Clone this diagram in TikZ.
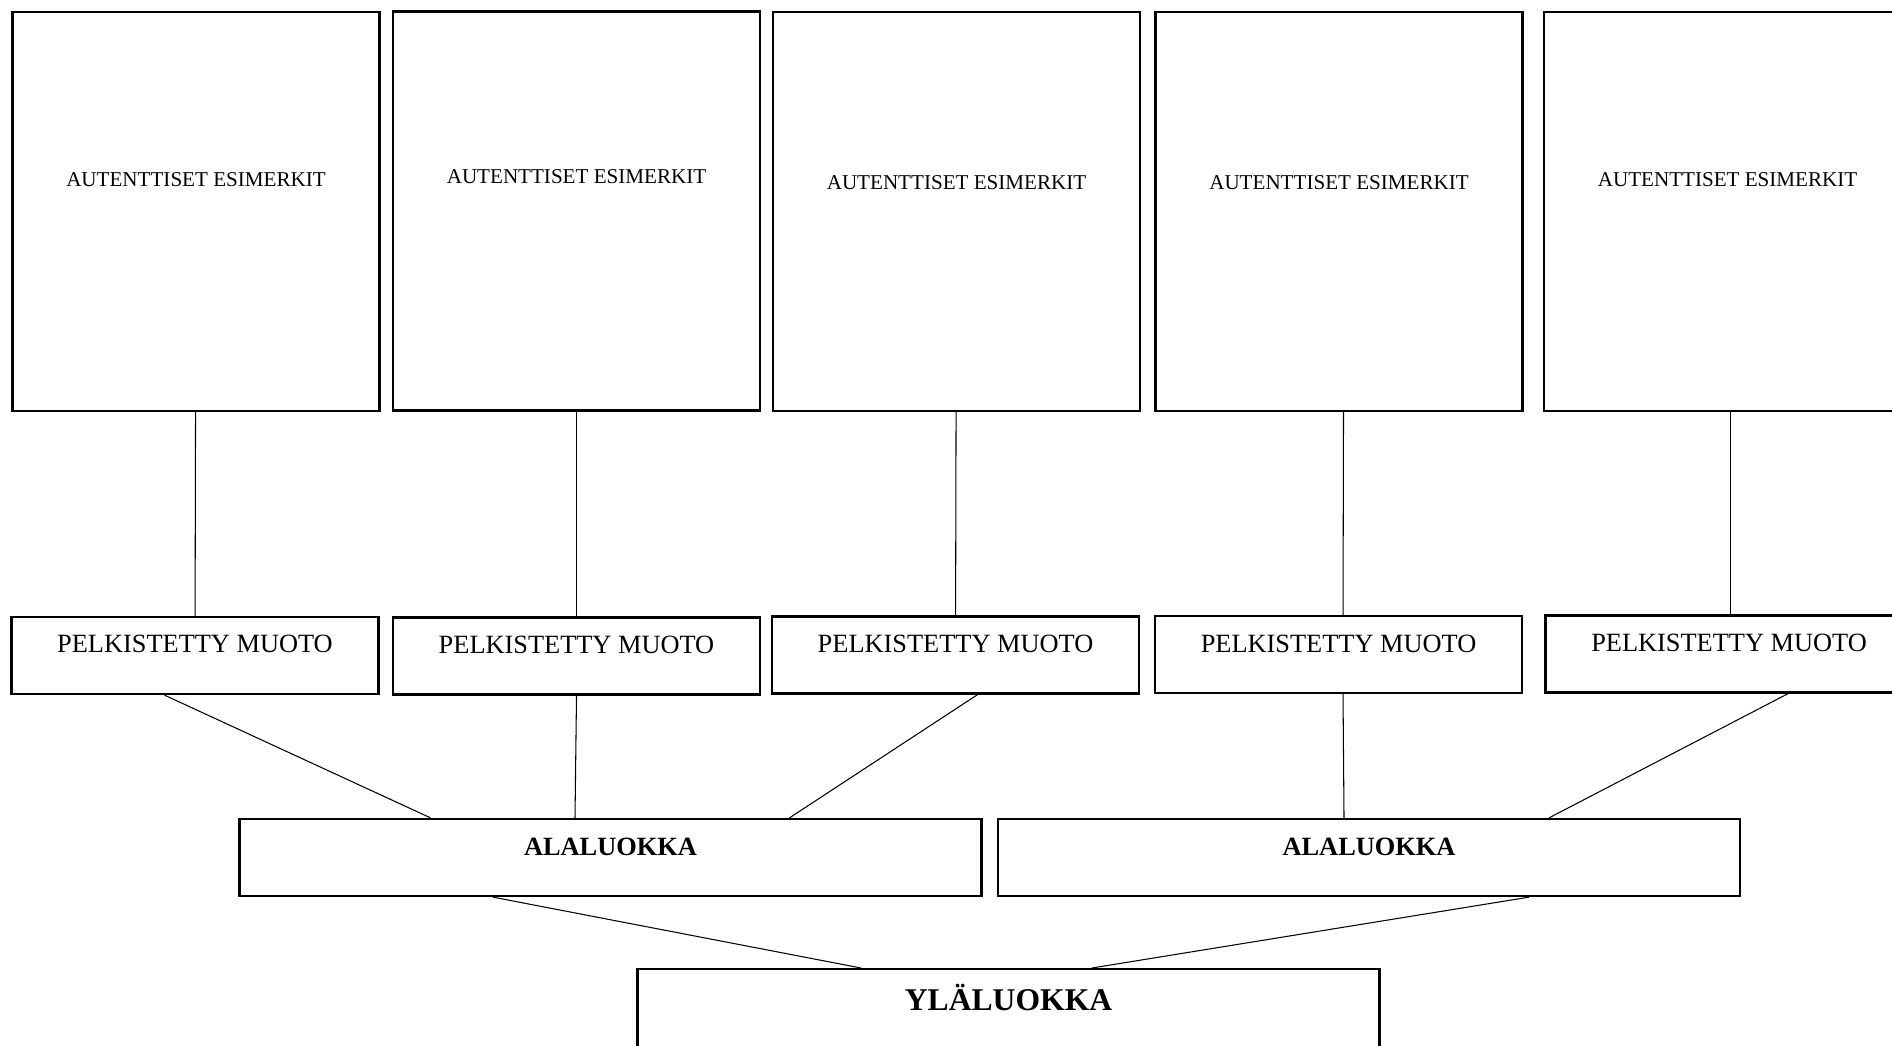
\documentclass[tikz,border=0pt]{standalone}
\usepackage{fontspec}
\setmainfont{Liberation Serif}
\usetikzlibrary{positioning}
\tikzset{>=latex}

\begin{document}
\begin{tikzpicture}[
    esim/.style={draw, line width=0.65pt, minimum width=3.67cm, minimum height=3.99cm},
    pelk/.style={draw, line width=0.65pt, minimum width=3.67cm, minimum height=0.77cm},
    luokka/.style={draw, line width=0.65pt, minimum width=7.42cm, minimum height=0.77cm},
    esimteksti/.style={font=\fontsize{6}{7}\selectfont},
    pelkteksti/.style={font=\fontsize{7.5}{9}\selectfont},
    luokkateksti/.style={font=\bfseries\fontsize{7.5}{9}\selectfont},
    yhd/.style={line width=0.3pt}]
        \useasboundingbox (0,0) rectangle (18.92,-10.46);
        \clip (0,0) rectangle (18.92,-10.46);
        % autenttiset esimerkit
        \node [esim, label={[esimteksti, yshift=0.32cm]center:AUTENTTISET ESIMERKIT}] (esim1) at (1.96,-2.115) {};
        \node [esim, label={[esimteksti, yshift=0.34cm]center:AUTENTTISET ESIMERKIT}] (esim2) at (5.765,-2.11) {};
        \node [esim, label={[esimteksti, yshift=0.29cm]center:AUTENTTISET ESIMERKIT}] (esim3) at (9.565,-2.115) {};
        \node [esim, label={[esimteksti, yshift=0.285cm]center:AUTENTTISET ESIMERKIT}] (esim4) at (13.39,-2.115) {};
        \node [esim, label={[esimteksti, yshift=0.32cm]center:AUTENTTISET ESIMERKIT}] (esim5) at (17.275,-2.115) {};
        % pelkistetyt muodot
        \node [pelk, label={[pelkteksti, yshift=0.115cm]center:PELKISTETTY MUOTO}] (pelk1) at (1.95,-6.555) {};
        \node [pelk, label={[pelkteksti, yshift=0.115cm]center:PELKISTETTY MUOTO}] (pelk2) at (5.765,-6.56) {};
        \node [pelk, label={[pelkteksti, yshift=0.11cm]center:PELKISTETTY MUOTO}] (pelk3) at (9.555,-6.55) {};
        \node [pelk, label={[pelkteksti, yshift=0.11cm]center:PELKISTETTY MUOTO}] (pelk4) at (13.385,-6.545) {};
        \node [pelk, label={[pelkteksti, yshift=0.11cm]center:PELKISTETTY MUOTO}] (pelk5) at (17.29,-6.54) {};
        % luokat
        \node [luokka, label={[luokkateksti, yshift=0.105cm]center:ALALUOKKA}] (ala1) at (6.105,-8.575) {};
        \node [luokka, label={[luokkateksti, yshift=0.105cm]center:ALALUOKKA}] (ala2) at (13.69,-8.575) {};
        \node [luokka, anchor=north, minimum height=1cm,
            label={[luokkateksti, font=\bfseries\fontsize{9}{11}\selectfont, yshift=0.22cm]center:YLÄLUOKKA}] (yla) at (10.085,-9.68) {};
        % yhteydet
        \draw [yhd] (esim1) -- (pelk1);
        \draw [yhd] (esim2) -- (pelk2);
        \draw [yhd] (esim3) -- (pelk3);
        \draw [yhd] ([xshift=0.045cm]esim4.south) -- ([xshift=0.045cm]pelk4.north);
        \draw [yhd] ([xshift=0.025cm]esim5.south) -- ([xshift=0.01cm]pelk5.north);
        \draw [yhd] ([xshift=-0.305cm]pelk1.south) -- ([xshift=-1.8cm]ala1.north);
        \draw [yhd] (pelk2.south) -- ([xshift=-0.355cm]ala1.north);
        \draw [yhd] ([xshift=0.22cm]pelk3.south) -- ([xshift=1.79cm]ala1.north);
        \draw [yhd] ([xshift=0.045cm]pelk4.south) -- ([xshift=-0.25cm]ala2.north);
        \draw [yhd] ([xshift=0.59cm]pelk5.south) -- ([xshift=1.8cm]ala2.north);
        \draw [yhd] ([xshift=-1.175cm]ala1.south) -- ([xshift=-1.475cm]yla.north);
        \draw [yhd] ([xshift=1.6cm]ala2.south) -- ([xshift=0.835cm]yla.north);
\end{tikzpicture}
\end{document}
